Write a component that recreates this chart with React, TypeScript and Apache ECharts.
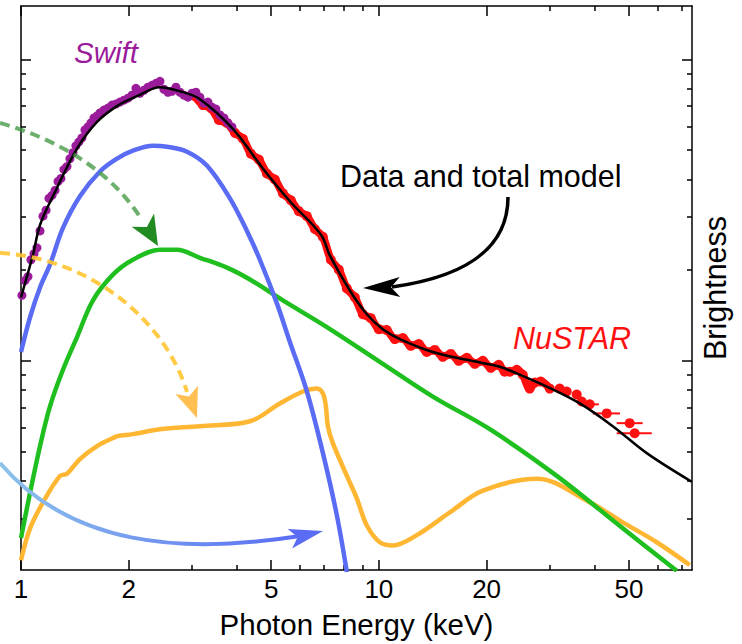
import React, { useEffect, useRef } from "react";
import * as echarts from "echarts";

// ---------- axis definitions (keV on x, brightness on y; both logarithmic) ----------
const xRange = [1, 75];
const yRange = [0.2022, 15.05];
const xMajorTicks = [1, 2, 5, 10, 20, 50];
const xMinorTicks = [3, 4, 6, 7, 8, 9, 30, 40, 60, 70];
const yMajorTicks = [1, 10];
const yMinorTicks = [0.3, 0.4, 0.5, 0.6, 0.7, 0.8, 0.9, 2, 3, 4, 5, 6, 7, 8, 9];

// ---------- Swift data ----------
const swiftE = [1.006, 1.026, 1.046, 1.066, 1.087, 1.108, 1.13, 1.152, 1.175, 1.197, 1.221, 1.245, 1.269, 1.293, 1.318, 1.344, 1.37, 1.397, 1.424, 1.452, 1.48, 1.509, 1.538, 1.568, 1.599, 1.631, 1.662, 1.705, 1.75, 1.796, 1.842, 1.89, 1.94, 1.99, 2.042, 2.095, 2.15, 2.206, 2.263, 2.322, 2.383, 2.445, 2.508, 2.574, 2.641, 2.71, 2.781, 2.853, 2.928, 3.004, 3.082, 3.162, 3.245, 3.329, 3.416, 3.505, 3.597, 3.691, 3.787, 3.886];
const swiftB = [1.649, 1.847, 1.904, 2.165, 2.266, 2.371, 2.698, 3.021, 3.162, 3.462, 3.542, 3.679, 3.938, 4.029, 4.313, 4.412, 4.688, 4.906, 5.172, 5.332, 5.497, 5.84, 5.975, 6.159, 6.396, 6.494, 6.643, 6.796, 6.9, 7.059, 7.112, 7.22, 7.328, 7.44, 7.611, 8.025, 7.727, 7.905, 8.088, 8.211, 8.337, 8.464, 7.965, 7.786, 7.845, 8.088, 7.786, 7.611, 7.497, 7.727, 7.786, 7.497, 7.165, 7.22, 6.95, 6.846, 6.543, 6.396, 6.159, 5.975];

// ---------- NuSTAR data ----------
const nuE = [3.062, 3.224, 3.395, 3.573, 3.762, 3.96, 4.169, 4.389, 4.62, 4.865, 5.121, 5.393, 5.677, 5.976, 6.292, 6.623, 6.975, 7.342, 7.73, 8.138, 8.568, 9.02, 9.497, 9.998, 10.52, 11.08, 11.67, 12.28, 12.93, 13.61, 14.33, 15.09, 15.89, 16.72, 17.61, 18.54, 19.52, 20.55, 21.63, 22.48, 23.22, 24.29, 25.24, 26.4, 27.27, 28.34, 30.03, 32.02, 33.5, 35.72, 36.89, 38.84, 43.32, 50.22, 51.87];
const nuB = [7.553, 7.059, 6.9, 6.3, 6.159, 5.708, 5.456, 4.869, 4.653, 4.184, 3.998, 3.596, 3.41, 3.138, 3.021, 2.738, 2.577, 2.165, 2.007, 1.739, 1.624, 1.428, 1.385, 1.274, 1.265, 1.181, 1.19, 1.121, 1.137, 1.07, 1.087, 1.031, 1.054, 1.0, 1.023, 0.977, 1.0, 0.948, 0.97, 0.92, 0.92, 0.934, 0.899, 0.809, 0.847, 0.853, 0.809, 0.809, 0.791, 0.773, 0.733, 0.717, 0.669, 0.621, 0.575];
// horizontal error bars on the last NuSTAR bins
const errE = [38.84, 43.32, 50.22, 51.87];
const errB = [0.717, 0.669, 0.621, 0.575];
const errLo = [36.6, 39.6, 46.2, 46.2];
const errHi = [41.2, 47.2, 54.6, 57.9];

// ---------- model components ----------
const modelE = [1.0, 1.08, 1.13, 1.228, 1.434, 1.631, 1.854, 2.109, 2.445, 2.781, 3.162, 3.91, 4.742, 5.641, 6.541, 6.977, 7.298, 8.299, 9.258, 10.26, 11.45, 14.15, 17.61, 21.78, 23.68, 29.47, 36.43, 45.04, 56.05, 74.86];
const modelB = [1.624, 2.249, 2.823, 3.516, 5.058, 6.205, 7.005, 7.555, 8.09, 7.847, 7.385, 5.886, 4.347, 3.384, 2.823, 2.558, 2.233, 1.712, 1.428, 1.274, 1.181, 1.07, 1.008, 0.956, 0.92, 0.821, 0.722, 0.607, 0.494, 0.397];

const blueE = [1.0, 1.06, 1.13, 1.205, 1.31, 1.461, 1.662, 1.854, 2.055, 2.337, 2.557, 2.909, 3.307, 3.835, 4.279, 4.651, 5.189, 5.641, 6.294, 6.977, 7.632, 8.14];
const blueB = [1.07, 1.395, 1.752, 2.085, 2.76, 3.516, 4.249, 4.688, 4.982, 5.174, 5.135, 4.944, 4.446, 3.462, 2.698, 2.165, 1.551, 1.155, 0.791, 0.494, 0.307, 0.199];

const greenE = [1.0, 1.06, 1.13, 1.205, 1.31, 1.434, 1.589, 1.807, 2.055, 2.445, 2.728, 3.162, 3.762, 4.362, 5.393, 7.157, 10.26, 14.15, 20.42, 31.42, 48.04, 67.98];
const greenB = [0.258, 0.365, 0.521, 0.706, 0.934, 1.199, 1.587, 1.932, 2.165, 2.335, 2.335, 2.198, 2.038, 1.861, 1.587, 1.294, 0.977, 0.761, 0.593, 0.415, 0.278, 0.201];

const orangeE = [1.0, 1.06, 1.152, 1.285, 1.344, 1.461, 1.631, 1.807, 1.854, 2.055, 2.445, 3.162, 4.362, 5.29, 6.135, 6.711, 6.977, 7.112, 7.203, 7.438, 8.14, 8.68, 9.258, 10.06, 10.94, 12.77, 15.79, 19.52, 27.63, 38.86, 48.04, 59.78, 73.9];
const orangeB = [0.218, 0.278, 0.339, 0.415, 0.422, 0.472, 0.521, 0.554, 0.562, 0.571, 0.593, 0.607, 0.63, 0.722, 0.791, 0.809, 0.779, 0.706, 0.607, 0.533, 0.415, 0.349, 0.284, 0.25, 0.244, 0.264, 0.314, 0.371, 0.406, 0.339, 0.291, 0.25, 0.21];

// ---------- helpers ----------
const L = Math.log10;
const FONT = "'Liberation Sans', Arial, Helvetica, sans-serif";
const pts = (xs: number[], ys: number[]) => xs.map((x, i) => [L(x), L(ys[i])]);

function head(tx: number, ty: number, fx: number, fy: number, len: number, half: number, notch: number) {
  const dx = tx - fx, dy = ty - fy;
  const d = Math.hypot(dx, dy);
  const ux = dx / d, uy = dy / d;
  const px = -uy, py = ux;
  const bx = tx - ux * len, by = ty - uy * len;
  return [
    [tx, ty],
    [bx + px * half, by + py * half],
    [tx - ux * (len - notch), ty - uy * (len - notch)],
    [bx - px * half, by - py * half],
  ];
}

function xAxisDef(position: string, values: number[], len: number, main: boolean, labels: boolean) {
  return {
    type: "value",
    position,
    min: L(xRange[0]),
    max: L(xRange[1]),
    axisLine: { show: main, onZero: false, lineStyle: { color: "#000", width: 1.5 } },
    axisTick: { show: true, inside: true, length: len, customValues: values.map(L), lineStyle: { color: "#000", width: 1.5 } },
    axisLabel: labels
      ? { show: true, customValues: values.map(L), formatter: (v: number) => String(Math.round(Math.pow(10, v))), color: "#000", fontSize: 26, margin: 6, fontFamily: FONT }
      : { show: false },
    splitLine: { show: false },
    ...(labels
      ? { name: "Photon Energy (keV)", nameLocation: "middle", nameGap: 39, nameTextStyle: { fontSize: 29.5, color: "#000", fontFamily: FONT } }
      : {}),
  };
}

function yAxisDef(position: string, values: number[], len: number, main: boolean, named: boolean) {
  return {
    type: "value",
    position,
    min: L(yRange[0]),
    max: L(yRange[1]),
    axisLine: { show: main, onZero: false, lineStyle: { color: "#000", width: 1.5 } },
    axisTick: { show: true, inside: true, length: len, customValues: values.map(L), lineStyle: { color: "#000", width: 1.5 } },
    axisLabel: { show: false },
    splitLine: { show: false },
    ...(named
      ? { name: "Brightness", nameLocation: "middle", nameGap: 7, nameRotate: 90, nameTextStyle: { fontSize: 30.5, color: "#000", fontFamily: FONT } }
      : {}),
  };
}

export default function App() {
  const ref = useRef<HTMLDivElement>(null);
  useEffect(() => {
    const chart = echarts.init(ref.current!, undefined, { renderer: "svg" });
    const blueGrad = new echarts.graphic.LinearGradient(0, 0, 1, 0, [
      { offset: 0, color: "#8cc3ea" },
      { offset: 1, color: "#5a6cf4" },
    ]);
    const option = {
      animation: false,
      backgroundColor: "#fff",
      grid: { left: 21, right: 50, top: 6, bottom: 69, containLabel: false },
      xAxis: [
        xAxisDef("bottom", xMajorTicks, 10, true, true),
        xAxisDef("bottom", xMinorTicks, 5, false, false),
        xAxisDef("top", xMajorTicks, 10, true, false),
        xAxisDef("top", xMinorTicks, 5, false, false),
      ],
      yAxis: [
        yAxisDef("left", yMajorTicks, 10, true, false),
        yAxisDef("left", yMinorTicks, 5, false, false),
        yAxisDef("right", yMajorTicks, 10, true, true),
        yAxisDef("right", yMinorTicks, 5, false, false),
      ],
      series: [
        {
          type: "line", name: "reflection", data: pts(orangeE, orangeB), smooth: 0.35,
          showSymbol: false, lineStyle: { color: "#ffb632", width: 4.5 }, z: 2,
        },
        {
          type: "line", name: "power law", data: pts(greenE, greenB), smooth: 0.35,
          showSymbol: false, lineStyle: { color: "#1fbf1f", width: 4.5 }, z: 3,
        },
        {
          type: "line", name: "disk", data: pts(blueE, blueB), smooth: 0.35,
          showSymbol: false, lineStyle: { color: "#5b6cf4", width: 4.5 }, z: 4,
        },
        {
          type: "line", name: "NuSTAR band", data: pts(nuE, nuB).slice(0, 47), smooth: 0.3,
          showSymbol: false, lineStyle: { color: "#ff1010", width: 8 }, z: 5,
        },
        {
          type: "scatter", name: "NuSTAR", data: pts(nuE, nuB), symbolSize: 10,
          itemStyle: { color: "#ff1010", opacity: 1 }, z: 6,
        },
        {
          type: "custom", name: "NuSTAR errors", z: 6,
          data: errE.map((_, i) => [L(errLo[i]), L(errB[i]), L(errHi[i])]),
          encode: { x: [0, 2], y: 1 },
          renderItem: (_p: any, api: any) => {
            const a = api.coord([api.value(0), api.value(1)]);
            const b = api.coord([api.value(2), api.value(1)]);
            return { type: "line", shape: { x1: a[0], y1: a[1], x2: b[0], y2: b[1] }, style: { stroke: "#ff1010", lineWidth: 2 } };
          },
        },
        {
          type: "scatter", name: "Swift", data: pts(swiftE, swiftB), symbolSize: 9,
          itemStyle: { color: "#9a1c9a", opacity: 1 }, z: 6,
        },
        {
          type: "line", name: "total model", data: pts(modelE, modelB), smooth: 0.35,
          showSymbol: false, lineStyle: { color: "#000", width: 2.5 }, z: 7,
        },
      ],
      graphic: [
        // green dashed arrow
        { type: "bezierCurve", z: 100, shape: { x1: 0, y1: 123, cpx1: 60, cpy1: 140, cpx2: 112, cpy2: 172, x2: 142, y2: 220 },
          style: { stroke: "rgba(60,150,60,0.75)", lineWidth: 4, lineDash: [10, 6], fill: "none" } },
        { type: "polygon", z: 100, shape: { points: head(158, 246, 141, 217, 30, 13, 8) }, style: { fill: "#228b22" } },
        // orange dashed arrow
        { type: "bezierCurve", z: 100, shape: { x1: 0, y1: 253, cpx1: 90, cpy1: 258, cpx2: 165, cpy2: 320, x2: 187, y2: 392 },
          style: { stroke: "rgba(255,196,50,0.9)", lineWidth: 4, lineDash: [10, 6], fill: "none" } },
        { type: "polygon", z: 100, shape: { points: head(197, 418, 186, 388, 30, 12, 7) }, style: { fill: "#ffbf52" } },
        // blue arrow
        { type: "bezierCurve", z: 100, shape: { x1: 0, y1: 463, cpx1: 70, cpy1: 545, cpx2: 180, cpy2: 555, x2: 300, y2: 536 },
          style: { stroke: blueGrad, lineWidth: 4, fill: "none" } },
        { type: "polygon", z: 100, shape: { points: head(323, 531, 293, 538, 34, 10, 8) }, style: { fill: "#5a6cf4" } },
        // black arrow
        { type: "bezierCurve", z: 100, shape: { x1: 508, y1: 197, cpx1: 508, cpy1: 255, cpx2: 455, cpy2: 278, x2: 392, y2: 287 },
          style: { stroke: "#000", lineWidth: 3.5, fill: "none" } },
        { type: "polygon", z: 100, shape: { points: head(363, 288, 400, 287, 37, 10, 9) }, style: { fill: "#000" } },
        // texts
        { type: "text", z: 100, x: 74, y: 52, style: { text: "Swift", fill: "#9a1c9a", font: `italic 29.5px ${FONT}`, verticalAlign: "middle", align: "left" } },
        { type: "text", z: 100, x: 513, y: 338, style: { text: "NuSTAR", fill: "#ff1010", font: `italic 30.5px ${FONT}`, verticalAlign: "middle", align: "left" } },
        { type: "text", z: 100, x: 340, y: 176, style: { text: "Data and total model", fill: "#000", font: `30.5px ${FONT}`, verticalAlign: "middle", align: "left" } },
      ],
    };
    chart.setOption(option as any);
    return () => chart.dispose();
  }, []);
  return <div ref={ref} style={{ position: "absolute", left: 0, top: 0, width: 742, height: 644, background: "#fff" }} />;
}
